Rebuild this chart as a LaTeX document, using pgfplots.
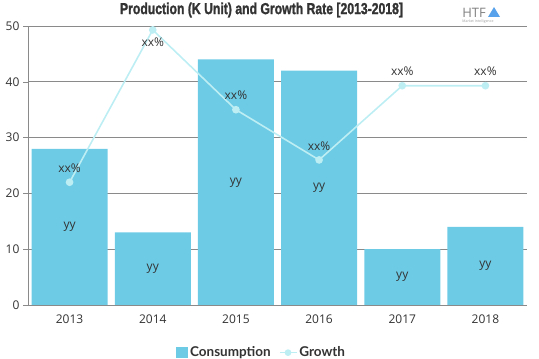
\documentclass[border=0pt]{standalone}
\usepackage{pgfplots}
\pgfplotsset{compat=1.18}
\usepackage{pgfplotstable}
\usepackage{fontspec}
\setmainfont{Open Sans}
\newfontfamily\titlefont[FakeBold=1.6]{Liberation Sans}
\newfontfamily\legfont{Lato}
\definecolor{barc}{HTML}{6DCBE5}
\definecolor{linec}{HTML}{BDEEF4}
\definecolor{txt}{HTML}{333333}
\definecolor{gridc}{HTML}{8A8A8A}
\pgfplotstableread{
x y half
0 28 14
1 13 6.5
2 44 22
3 42 21
4 10 5
5 14 7
}\bars
\pgfplotstableread{
x g
0 22
1 49.3
2 35
3 26
4 39.3
5 39.3
}\growth
\pgfplotstableread{
x g
0 22
2 35
3 26
4 39.3
5 39.3
}\growthA
\pgfplotstableread{
x g
1 49.3
}\growthB
\begin{document}
\begin{tikzpicture}[x=1pt,y=1pt]
\begin{axis}[
  set layers,
  at={(28pt,54pt)}, anchor=south west,
  scale only axis, width=499pt, height=279pt,
  xmin=-0.5, xmax=5.5, ymin=0, ymax=50,
  xtick={0,...,5}, xticklabels={2013,2014,2015,2016,2017,2018},
  ytick={0,10,...,50},
  axis x line*=bottom, axis y line*=left,
  x axis line style={draw=gridc, -}, y axis line style={draw=gridc, -},
  major x tick style={draw=none},
  major y tick style={draw=gridc},
  tick align=outside, major tick length=5pt,
  ymajorgrids, grid style={draw=gridc, line width=0.6pt},
  tick label style={font=\fontsize{12}{14}\selectfont, text=txt},
  /pgf/number format/assume math mode=true,
  xticklabel style={yshift=-1pt},
  legend style={at={(0.468,-0.135)}, anchor=north, legend columns=2, draw=none,
    font=\legfont\bfseries\fontsize{13.5}{15}\selectfont, text=txt,
    /tikz/every even column/.append style={column sep=6pt}},
  legend cell align=left,
  clip=false,
]
\addplot[ybar, bar width=76pt, fill=barc, draw=none,
  legend image code/.code={\fill[barc] (-2pt,-5.5pt) rectangle (10pt,6pt);}] table[x=x,y=y] {\bars};
\addlegendentry{Consumption}
\addplot[color=linec, line width=1.6pt, mark=*, mark size=3pt, mark options={fill=linec, draw=linec},
  legend image code/.code={\draw[linec, line width=1.6pt] (0pt,0pt) -- (17pt,0pt); \fill[linec] (8.5pt,0pt) circle (2.5pt);}] table[x=x,y=g] {\growth};
\addlegendentry{Growth}
\addplot[draw=none, mark=none, nodes near coords={yy},
  every node near coord/.append style={anchor=center, font=\fontsize{12}{14}\selectfont, text=txt}, forget plot]
  table[x=x,y=half] {\bars};
\addplot[draw=none, mark=none, nodes near coords={xx\%},
  every node near coord/.append style={anchor=center, yshift=14pt, font=\fontsize{12}{14}\selectfont, text=txt}, forget plot]
  table[x=x,y=g] {\growthA};
\addplot[draw=none, mark=none, nodes near coords={xx\%},
  every node near coord/.append style={anchor=center, yshift=-12pt, font=\fontsize{12}{14}\selectfont, text=txt}, forget plot]
  table[x=x,y=g] {\growthB};
\end{axis}
\node[text=txt] at (261.5,349) {\resizebox{283pt}{11.5pt}{\titlefont\bfseries Production (K Unit) and Growth Rate [2013-2018]}};
\node[text=gray, font=\fontsize{13}{13}\selectfont, inner sep=0] at (474,346) {HTF};
\node[text=gray!80, font=\fontsize{3.5}{4}\selectfont, inner sep=0] at (478,337) {Market Intelligence};
\fill[barc!80!blue] (488,342) -- (494,352) -- (500,342) -- cycle;
\pgfresetboundingbox
\path[use as bounding box] (0,0) rectangle (539,359);
\end{tikzpicture}
\end{document}
